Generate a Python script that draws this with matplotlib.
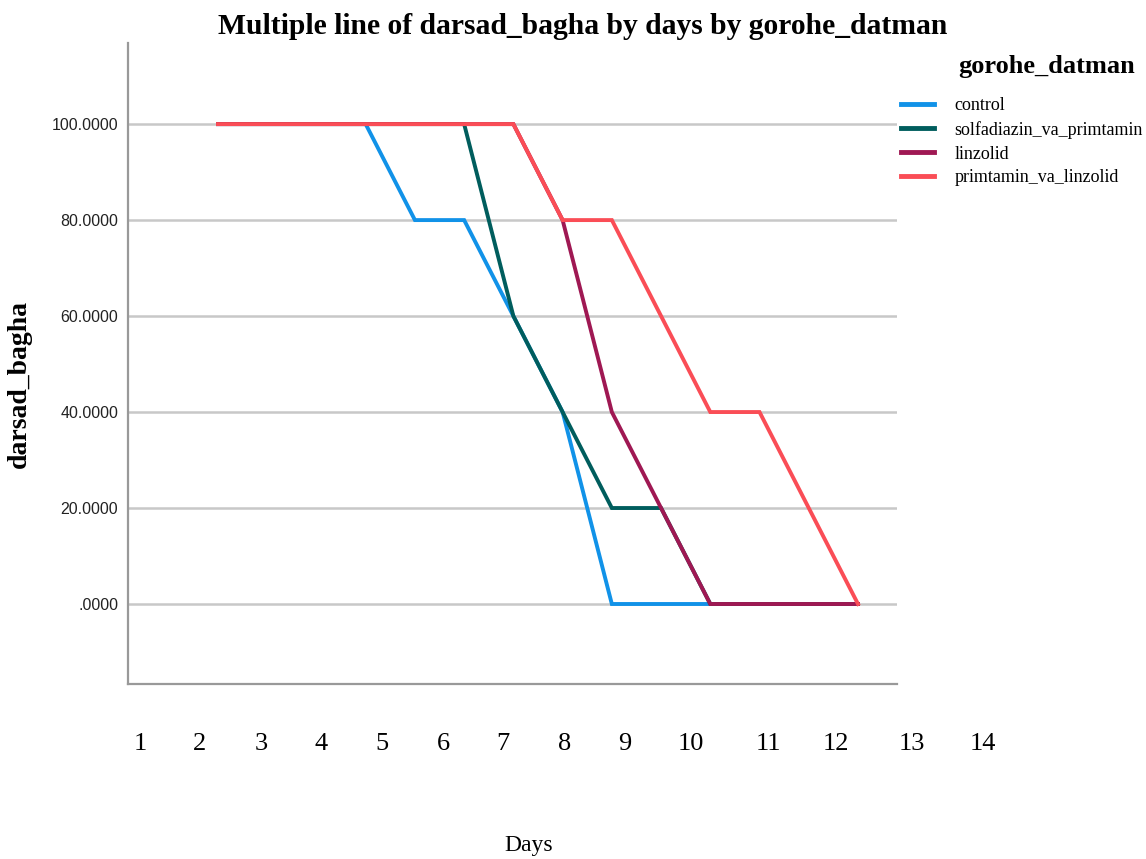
import matplotlib
matplotlib.use("Agg")
import matplotlib.pyplot as plt

days = list(range(1, 15))
day_labels = [str(d) for d in days]
groups = ["control", "solfadiazin_va_primtamin", "linzolid", "primtamin_va_linzolid"]
control = [100, 100, 100, 100, 80, 80, 60, 40, 0, 0, 0, 0, 0, 0]
solfadiazin_va_primtamin = [100, 100, 100, 100, 100, 100, 60, 40, 20, 20, 0, 0, 0, 0]
linzolid = [100, 100, 100, 100, 100, 100, 100, 80, 40, 20, 0, 0, 0, 0]
primtamin_va_linzolid = [100, 100, 100, 100, 100, 100, 100, 80, 80, 60, 40, 40, 20, 0]
series = [control, solfadiazin_va_primtamin, linzolid, primtamin_va_linzolid]
colors = ["#1192e8", "#005d5d", "#9f1853", "#fa4d56"]
y_ticks = [0, 20, 40, 60, 80, 100]

W, H = 1146, 859
fig = plt.figure(figsize=(W / 100, H / 100), dpi=100)
ax = fig.add_axes([128 / W, 1 - 684 / H, (897 - 128) / W, (684 - 43) / H])

serif = "Liberation Serif"
sans = "Liberation Sans"

for vals, name, c in zip(series, groups, colors):
    ax.plot(days, vals, color=c, lw=2.8, label=name, solid_joinstyle="miter", zorder=3)

ax.set_xlim(1 - 90 / 49.23, 1 + 679 / 49.23)
ax.set_ylim(-16.67, 116.9)
ax.set_yticks(y_ticks)
ax.set_yticklabels([("%.4f" % v) if v != 0 else ".0000" for v in y_ticks],
                   fontname=sans, fontsize=11.5, color="#222222")
ax.tick_params(axis="y", length=0, pad=7)
ax.set_xticks([])
for y in y_ticks:
    ax.axhline(y, color="#c8c8c8", lw=1.8, zorder=1)
for s in ["top", "right"]:
    ax.spines[s].set_visible(False)
for s in ["left", "bottom"]:
    ax.spines[s].set_color("#999999")
    ax.spines[s].set_linewidth(1.6)

# category labels row
label_x = [140, 200, 261, 321, 382, 443, 503, 565, 625, 691, 768, 836, 912, 983]
for lx, lab in zip(label_x, day_labels):
    fig.text(lx / W, 1 - 744 / H, lab, ha="center", va="center", fontname=serif, fontsize=19)

fig.text(529 / W, 1 - 845 / H, "Days", ha="center", va="center", fontname=serif, fontsize=17)
fig.text(19 / W, 1 - 384 / H, "darsad_bagha", ha="center", va="center", rotation=90,
         fontname=serif, fontsize=20, fontweight="bold")
fig.text(583 / W, 1 - 27 / H, "Multiple line of darsad_bagha by days by gorohe_datman",
         ha="center", va="center", fontname=serif, fontsize=21.3, fontweight="bold")
fig.text(1047 / W, 1 - 67 / H, "gorohe_datman", ha="center", va="center",
         fontname=serif, fontsize=19, fontweight="bold")

leg = ax.legend(loc="upper left", bbox_to_anchor=(901 / W, 1 - 97 / H),
                bbox_transform=fig.transFigure, frameon=False,
                prop={"family": serif, "size": 13}, handlelength=1.8,
                handletextpad=1.15, labelspacing=0.38, borderaxespad=0, borderpad=0)
for line in leg.get_lines():
    line.set_linewidth(3.5)

fig.savefig("out.png", dpi=100)
